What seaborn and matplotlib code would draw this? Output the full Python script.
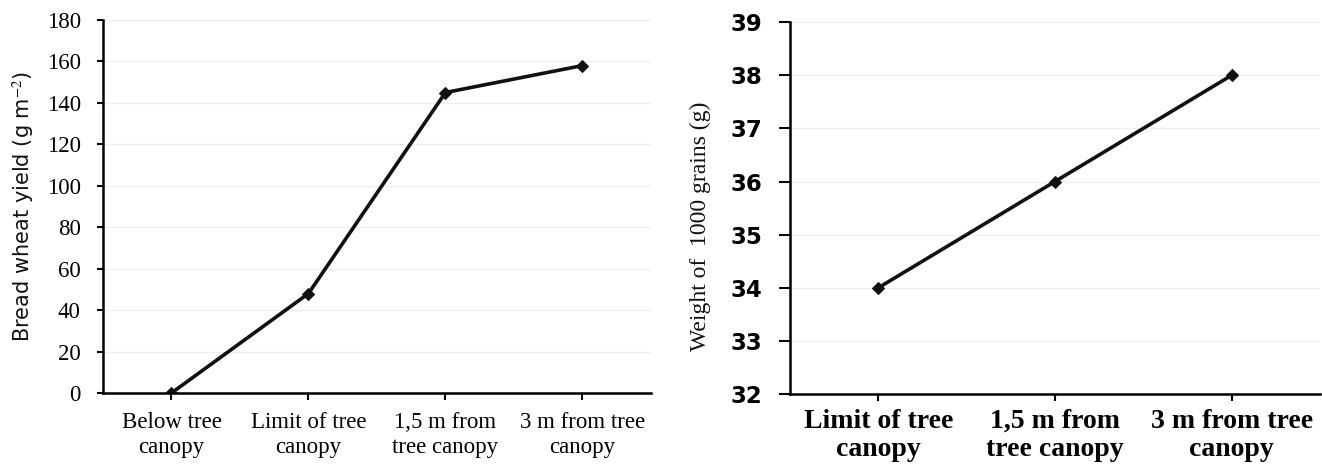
import matplotlib
matplotlib.use("Agg")
import matplotlib.pyplot as plt
import seaborn as sns
import pandas as pd

left_categories = ["Below tree\ncanopy", "Limit of tree\ncanopy", "1,5 m from\ntree canopy", "3 m from tree\ncanopy"]
left_values = [0, 48, 145, 158]
right_categories = ["Limit of tree\ncanopy", "1,5 m from\ntree canopy", "3 m from tree\ncanopy"]
right_values = [34, 36, 38]

sns.set_style("white")
plt.rcParams['font.family'] = ['Liberation Serif', 'DejaVu Serif']
plt.rcParams['mathtext.fontset'] = 'stix'

fig = plt.figure(figsize=(13.22, 4.66), dpi=100)
ax1 = fig.add_axes([0.0779, 0.1567, 0.4145, 0.8004])
ax2 = fig.add_axes([0.5976, 0.1545, 0.4009, 0.798])

df1 = pd.DataFrame({"cat": left_categories, "val": left_values})
df2 = pd.DataFrame({"cat": right_categories, "val": right_values})

for ax, df in ((ax1, df1), (ax2, df2)):
    sns.lineplot(data=df, x="cat", y="val", ax=ax, color="#111111", linewidth=2.6,
                 marker="D", markersize=6, markeredgecolor="#111111", sort=False)
    ax.set_xlabel("")
    for s in ("top", "right"):
        ax.spines[s].set_visible(False)
    for s in ("left", "bottom"):
        ax.spines[s].set_color("black")
        ax.spines[s].set_linewidth(1.8)
    ax.yaxis.grid(True, color="#efefef", linewidth=0.9)
    ax.set_axisbelow(True)
    ax.tick_params(axis="both", direction="out", width=1.5, color="black",
                   labelcolor="black", left=True, bottom=True)

# left panel
ax1.set_xlim(-0.5, 3.5)
ax1.set_ylim(0, 180)
ax1.set_yticks(range(0, 181, 20))
ax1.tick_params(axis="y", length=4, pad=12, labelsize=16.5)
ax1.tick_params(axis="x", length=5, pad=9, labelsize=16.5)
ax1.set_ylabel("Bread wheat yield (g m$^{-2}$)", fontsize=15, color="#111111",
               fontfamily="DejaVu Sans")
ax1.yaxis.set_label_coords(-0.122, 0.5)

# right panel
ax2.set_xlim(-0.5, 2.5)
ax2.set_ylim(32, 39)
ax2.set_yticks(range(32, 40))
ax2.tick_params(axis="y", length=8, pad=12, labelsize=16.5)
ax2.tick_params(axis="x", length=5, pad=5.5, labelsize=20)
for lab in ax2.get_yticklabels():
    lab.set_fontfamily("DejaVu Sans")
    lab.set_fontweight("bold")
for lab in ax2.get_xticklabels():
    lab.set_fontweight("bold")
ax2.set_ylabel("Weight of  1000 grains (g)", fontsize=17, color="#111111")
ax2.yaxis.set_label_coords(-0.149, 0.45)

fig.savefig("out.png", dpi=100)
